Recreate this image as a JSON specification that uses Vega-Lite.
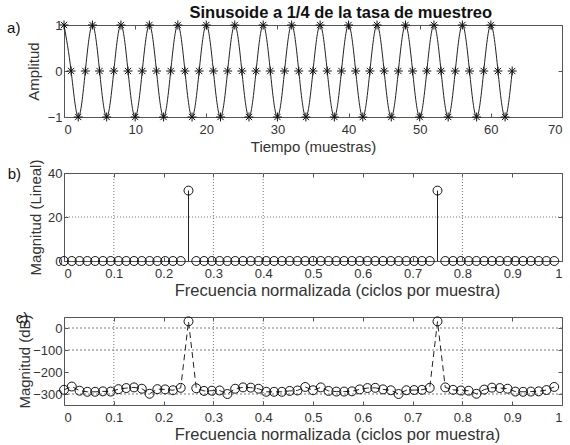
{
  "$schema": "https://vega.github.io/schema/vega-lite/v6.json",
  "padding": {"left": 6, "top": 4, "right": 2, "bottom": 2},
  "bounds": "flush",
  "spacing": 56,
  "title": {"text": "Sinusoide a 1/4 de la tasa de muestreo", "fontSize": 16.5, "fontWeight": "bold", "font": "Liberation Sans", "color": "#111", "anchor": "middle", "dx": 56, "offset": -3},
  "datasets": {
    "sig": [
      {"n":0,"amp":1},{"n":1,"amp":0},{"n":2,"amp":-1},{"n":3,"amp":0},
      {"n":4,"amp":1},{"n":5,"amp":0},{"n":6,"amp":-1},{"n":7,"amp":0},
      {"n":8,"amp":1},{"n":9,"amp":0},{"n":10,"amp":-1},{"n":11,"amp":0},
      {"n":12,"amp":1},{"n":13,"amp":0},{"n":14,"amp":-1},{"n":15,"amp":0},
      {"n":16,"amp":1},{"n":17,"amp":0},{"n":18,"amp":-1},{"n":19,"amp":0},
      {"n":20,"amp":1},{"n":21,"amp":0},{"n":22,"amp":-1},{"n":23,"amp":0},
      {"n":24,"amp":1},{"n":25,"amp":0},{"n":26,"amp":-1},{"n":27,"amp":0},
      {"n":28,"amp":1},{"n":29,"amp":0},{"n":30,"amp":-1},{"n":31,"amp":0},
      {"n":32,"amp":1},{"n":33,"amp":0},{"n":34,"amp":-1},{"n":35,"amp":0},
      {"n":36,"amp":1},{"n":37,"amp":0},{"n":38,"amp":-1},{"n":39,"amp":0},
      {"n":40,"amp":1},{"n":41,"amp":0},{"n":42,"amp":-1},{"n":43,"amp":0},
      {"n":44,"amp":1},{"n":45,"amp":0},{"n":46,"amp":-1},{"n":47,"amp":0},
      {"n":48,"amp":1},{"n":49,"amp":0},{"n":50,"amp":-1},{"n":51,"amp":0},
      {"n":52,"amp":1},{"n":53,"amp":0},{"n":54,"amp":-1},{"n":55,"amp":0},
      {"n":56,"amp":1},{"n":57,"amp":0},{"n":58,"amp":-1},{"n":59,"amp":0},
      {"n":60,"amp":1},{"n":61,"amp":0},{"n":62,"amp":-1},{"n":63,"amp":0}
    ],
    "spec": [
      {"f":0,"mag":0,"db":-281},{"f":0.015625,"mag":0,"db":-266},{"f":0.03125,"mag":0,"db":-285},{"f":0.046875,"mag":0,"db":-290},
      {"f":0.0625,"mag":0,"db":-290},{"f":0.078125,"mag":0,"db":-288},{"f":0.09375,"mag":0,"db":-289},{"f":0.109375,"mag":0,"db":-278},
      {"f":0.125,"mag":0,"db":-273},{"f":0.140625,"mag":0,"db":-270},{"f":0.15625,"mag":0,"db":-276},{"f":0.171875,"mag":0,"db":-299},
      {"f":0.1875,"mag":0,"db":-278},{"f":0.203125,"mag":0,"db":-279},{"f":0.21875,"mag":0,"db":-283},{"f":0.234375,"mag":0,"db":-272},
      {"f":0.25,"mag":32,"db":30.1},{"f":0.265625,"mag":0,"db":-274},{"f":0.28125,"mag":0,"db":-286},{"f":0.296875,"mag":0,"db":-285},
      {"f":0.3125,"mag":0,"db":-284},{"f":0.328125,"mag":0,"db":-300},{"f":0.34375,"mag":0,"db":-276},{"f":0.359375,"mag":0,"db":-270},
      {"f":0.375,"mag":0,"db":-271},{"f":0.390625,"mag":0,"db":-276},{"f":0.40625,"mag":0,"db":-290},{"f":0.421875,"mag":0,"db":-290},
      {"f":0.4375,"mag":0,"db":-290},{"f":0.453125,"mag":0,"db":-286},{"f":0.46875,"mag":0,"db":-284},{"f":0.484375,"mag":0,"db":-268},
      {"f":0.5,"mag":0,"db":-283},{"f":0.515625,"mag":0,"db":-270},{"f":0.53125,"mag":0,"db":-286},{"f":0.546875,"mag":0,"db":-289},
      {"f":0.5625,"mag":0,"db":-289},{"f":0.578125,"mag":0,"db":-288},{"f":0.59375,"mag":0,"db":-279},{"f":0.609375,"mag":0,"db":-273},
      {"f":0.625,"mag":0,"db":-272},{"f":0.640625,"mag":0,"db":-279},{"f":0.65625,"mag":0,"db":-283},{"f":0.671875,"mag":0,"db":-300},
      {"f":0.6875,"mag":0,"db":-283},{"f":0.703125,"mag":0,"db":-282},{"f":0.71875,"mag":0,"db":-281},{"f":0.734375,"mag":0,"db":-272},
      {"f":0.75,"mag":32,"db":30.1},{"f":0.765625,"mag":0,"db":-270},{"f":0.78125,"mag":0,"db":-281},{"f":0.796875,"mag":0,"db":-284},
      {"f":0.8125,"mag":0,"db":-285},{"f":0.828125,"mag":0,"db":-299},{"f":0.84375,"mag":0,"db":-280},{"f":0.859375,"mag":0,"db":-271},
      {"f":0.875,"mag":0,"db":-273},{"f":0.890625,"mag":0,"db":-276},{"f":0.90625,"mag":0,"db":-289},{"f":0.921875,"mag":0,"db":-290},
      {"f":0.9375,"mag":0,"db":-289},{"f":0.953125,"mag":0,"db":-288},{"f":0.96875,"mag":0,"db":-282},{"f":0.984375,"mag":0,"db":-268}
    ],
    "vg": [{"g":0.1},{"g":0.3},{"g":0.4},{"g":0.8}],
    "hgm": [{"h":20}],
    "hgb": [{"h":0},{"h":-100},{"h":-300}]
  },
  "vconcat": [
    {
      "width": 498, "height": 92,
      "resolve": {"axis": {"x": "independent", "y": "independent"}},
      "layer": [
        {
          "data": {"name": "sig"},
          "mark": {"type": "line", "interpolate": "natural", "color": "#222", "strokeWidth": 1},
          "encoding": {
            "x": {"field": "n", "type": "quantitative", "scale": {"domain": [0, 70], "nice": false}, "axis": {"values": [0,10,20,30,40,50,60,70], "title": "Tiempo (muestras)", "orient": "bottom", "titlePadding": 3}},
            "y": {"field": "amp", "type": "quantitative", "scale": {"domain": [-1, 1], "nice": false}, "axis": {"values": [-1,0,1], "format": "~g", "title": "Amplitud", "titlePadding": 6}}
          }
        },
        {
          "data": {"name": "sig"},
          "mark": {"type": "point", "shape": "M-1,0L1,0M0,-1L0,1M-0.7,-0.7L0.7,0.7M-0.7,0.7L0.7,-0.7", "filled": false, "size": 80, "stroke": "#111", "strokeWidth": 1, "opacity": 1},
          "encoding": {
            "x": {"field": "n", "type": "quantitative", "scale": {"domain": [0, 70], "nice": false}, "axis": {"orient": "top", "labels": false, "title": null, "values": [0,10,20,30,40,50,60,70]}},
            "y": {"field": "amp", "type": "quantitative", "scale": {"domain": [-1, 1], "nice": false}, "axis": {"orient": "right", "labels": false, "title": null, "values": [-1,0,1]}}
          }
        },
        {
          "data": {"values": [{"lab": "a)", "x": -8, "y": 0.93}]},
          "mark": {"type": "text", "align": "left", "baseline": "middle", "fontSize": 15, "color": "#111"},
          "encoding": {
            "x": {"field": "x", "type": "quantitative", "scale": {"domain": [0, 70], "nice": false}, "axis": null},
            "y": {"field": "y", "type": "quantitative", "scale": {"domain": [-1, 1], "nice": false}, "axis": null},
            "text": {"field": "lab"}
          }
        }
      ]
    },
    {
      "width": 498, "height": 88,
      "data": {"name": "spec"},
      "resolve": {"axis": {"x": "independent", "y": "independent"}},
      "layer": [
        {
          "data": {"name": "vg"},
          "mark": {"type": "rule", "color": "#777", "strokeDash": [1, 2], "strokeWidth": 1},
          "encoding": {"x": {"field": "g", "type": "quantitative", "scale": {"domain": [0, 1], "nice": false}, "axis": null}}
        },
        {
          "data": {"name": "hgm"},
          "mark": {"type": "rule", "color": "#777", "strokeDash": [1, 2], "strokeWidth": 1},
          "encoding": {"y": {"field": "h", "type": "quantitative", "scale": {"domain": [0, 40], "nice": false}, "axis": null}}
        },
        {
          "mark": {"type": "rule", "color": "#222", "strokeWidth": 1},
          "encoding": {
            "x": {"field": "f", "type": "quantitative", "scale": {"domain": [0, 1], "nice": false}, "axis": {"values": [0,0.1,0.2,0.3,0.4,0.5,0.6,0.7,0.8,0.9,1], "format": "~g", "title": "Frecuencia normalizada (ciclos por muestra)", "titleFontSize": 16.5, "titleX": 273, "titlePadding": 2}},
            "y": {"field": "mag", "type": "quantitative", "scale": {"domain": [0, 40], "nice": false}, "axis": {"values": [0,20,40], "title": "Magnitud (Lineal)", "titlePadding": 4}},
            "y2": {"datum": 0}
          }
        },
        {
          "mark": {"type": "point", "shape": "circle", "filled": false, "size": 80, "stroke": "#111", "strokeWidth": 1, "opacity": 1},
          "encoding": {
            "x": {"field": "f", "type": "quantitative", "scale": {"domain": [0, 1], "nice": false}, "axis": {"orient": "top", "labels": false, "title": null, "values": [0,0.1,0.2,0.3,0.4,0.5,0.6,0.7,0.8,0.9,1]}},
            "y": {"field": "mag", "type": "quantitative", "scale": {"domain": [0, 40], "nice": false}, "axis": {"orient": "right", "labels": false, "title": null, "values": [0,20,40]}}
          }
        },
        {
          "data": {"values": [{"lab": "b)", "x": -0.113, "y": 39.5}]},
          "mark": {"type": "text", "align": "left", "baseline": "middle", "fontSize": 15, "color": "#111"},
          "encoding": {
            "x": {"field": "x", "type": "quantitative", "scale": {"domain": [0, 1], "nice": false}, "axis": null},
            "y": {"field": "y", "type": "quantitative", "scale": {"domain": [0, 40], "nice": false}, "axis": null},
            "text": {"field": "lab"}
          }
        }
      ]
    },
    {
      "width": 498, "height": 88,
      "data": {"name": "spec"},
      "resolve": {"axis": {"x": "independent", "y": "independent"}},
      "layer": [
        {
          "data": {"name": "vg"},
          "mark": {"type": "rule", "color": "#777", "strokeDash": [1, 2], "strokeWidth": 1},
          "encoding": {"x": {"field": "g", "type": "quantitative", "scale": {"domain": [0, 1], "nice": false}, "axis": null}}
        },
        {
          "data": {"name": "hgb"},
          "mark": {"type": "rule", "color": "#777", "strokeDash": [2, 2], "strokeWidth": 1},
          "encoding": {"y": {"field": "h", "type": "quantitative", "scale": {"domain": [-350, 50], "nice": false}, "axis": null}}
        },
        {
          "mark": {"type": "line", "color": "#222", "strokeWidth": 1, "strokeDash": [6, 4]},
          "encoding": {
            "x": {"field": "f", "type": "quantitative", "scale": {"domain": [0, 1], "nice": false}, "axis": {"values": [0,0.1,0.2,0.3,0.4,0.5,0.6,0.7,0.8,0.9,1], "format": "~g", "title": "Frecuencia normalizada (ciclos por muestra)", "titleFontSize": 16.5, "titleX": 273, "titlePadding": 2}},
            "y": {"field": "db", "type": "quantitative", "scale": {"domain": [-350, 50], "nice": false}, "axis": {"values": [-300,-200,-100,0], "title": "Magnitud (dB)", "titlePadding": 0}}
          }
        },
        {
          "mark": {"type": "point", "shape": "circle", "filled": false, "size": 80, "stroke": "#111", "strokeWidth": 1, "opacity": 1},
          "encoding": {
            "x": {"field": "f", "type": "quantitative", "scale": {"domain": [0, 1], "nice": false}, "axis": {"orient": "top", "labels": false, "title": null, "values": [0,0.1,0.2,0.3,0.4,0.5,0.6,0.7,0.8,0.9,1]}},
            "y": {"field": "db", "type": "quantitative", "scale": {"domain": [-350, 50], "nice": false}, "axis": {"orient": "right", "labels": false, "title": null, "values": [-300,-200,-100,0]}}
          }
        },
        {
          "data": {"values": [{"lab": "c)", "x": -0.097, "y": 44}]},
          "mark": {"type": "text", "align": "left", "baseline": "middle", "fontSize": 15, "color": "#111"},
          "encoding": {
            "x": {"field": "x", "type": "quantitative", "scale": {"domain": [0, 1], "nice": false}, "axis": null},
            "y": {"field": "y", "type": "quantitative", "scale": {"domain": [-350, 50], "nice": false}, "axis": null},
            "text": {"field": "lab"}
          }
        }
      ]
    }
  ],
  "config": {
    "font": "Liberation Sans",
    "view": {"stroke": "#555", "strokeWidth": 1},
    "axis": {"domain": false, "grid": false, "tickColor": "#555", "tickSize": -4, "labelFontSize": 13, "labelColor": "#333", "labelPadding": 6, "titleFontSize": 15, "titleFontWeight": "normal", "titleColor": "#333", "titlePadding": 3},
    "axisX": {"labelPadding": 10}
  }
}
